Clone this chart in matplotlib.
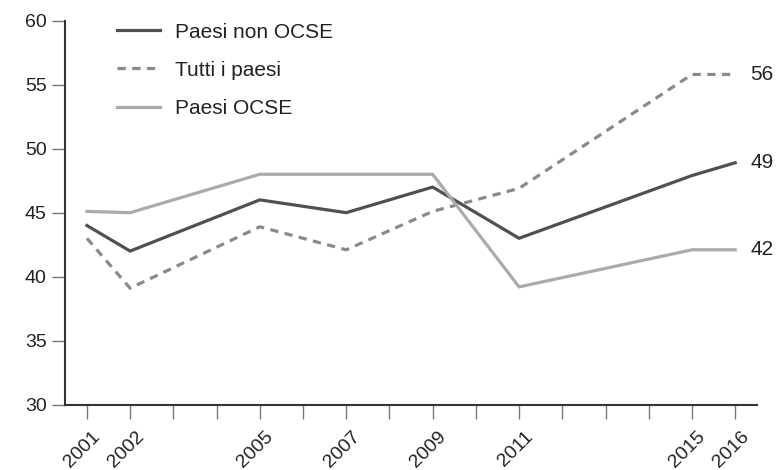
import matplotlib
matplotlib.use("Agg")
import matplotlib.pyplot as plt
import matplotlib.transforms as mtransforms

plt.rcParams['font.family'] = ['Liberation Sans', 'DejaVu Sans']

# data
years = [2001, 2002, 2005, 2007, 2009, 2011, 2015, 2016]
non_ocse = [44, 42, 46, 45, 47, 43, 47.9, 48.9]
tutti = [43, 39.1, 43.9, 42.1, 45.1, 46.9, 55.8, 55.8]
ocse = [45.1, 45.0, 48, 48, 48, 39.2, 42.1, 42.1]
labels = ["Paesi non OCSE", "Tutti i paesi", "Paesi OCSE"]
end_labels = ["49", "56", "42"]
all_years = list(range(2001, 2017))

fig = plt.figure(figsize=(7.77, 4.70), dpi=100)
ax = fig.add_axes([0.084, 0.139, 0.89, 0.817])

c_non, c_tutti, c_ocse = "#505050", "#8a8a8a", "#ababab"
ax.plot(years, non_ocse, color=c_non, lw=2.3, label=labels[0])
ax.plot(years, tutti, color=c_tutti, lw=2.3, dashes=(2.6, 2.0), label=labels[1])
ax.plot(years, ocse, color=c_ocse, lw=2.3, label=labels[2])

# value labels at the right end
for series, txt in zip([non_ocse, tutti, ocse], end_labels):
    ax.annotate(txt, xy=(years[-1], series[-1]), xytext=(11, 0),
                textcoords='offset points', va='center', ha='left',
                fontsize=15, color='#222222', annotation_clip=False)

ax.set_xlim(2000.5, 2016.5)
ax.set_ylim(30, 60)
ax.set_yticks(range(30, 61, 5))
ax.set_xticks(all_years)
ax.set_xticklabels([str(y) if y in years else "" for y in all_years],
                   rotation=45, ha='right', rotation_mode='anchor')

for s in ['top', 'right']:
    ax.spines[s].set_visible(False)
for s in ['left', 'bottom']:
    ax.spines[s].set_color('#333333')
    ax.spines[s].set_linewidth(1.5)

ax.tick_params(axis='y', length=9.5, width=1, color='#777777', labelsize=14,
               labelcolor='#222222', pad=4)
ax.tick_params(axis='x', length=10, width=1, color='#777777', labelsize=14,
               labelcolor='#222222', pad=7)

# nudge rotated year labels a little to the right, like the original
shift = mtransforms.ScaledTranslation(5 / 100, 0, fig.dpi_scale_trans)
for lab in ax.get_xticklabels():
    lab.set_transform(lab.get_transform() + shift)

leg = ax.legend(loc='upper left', bbox_to_anchor=(0.075, 0.995), frameon=False,
                borderaxespad=0, borderpad=0, handlelength=2.07,
                handletextpad=0.72, labelspacing=0.92, fontsize=15)
for t in leg.get_texts():
    t.set_color('#222222')

fig.savefig("out.png", dpi=100)
